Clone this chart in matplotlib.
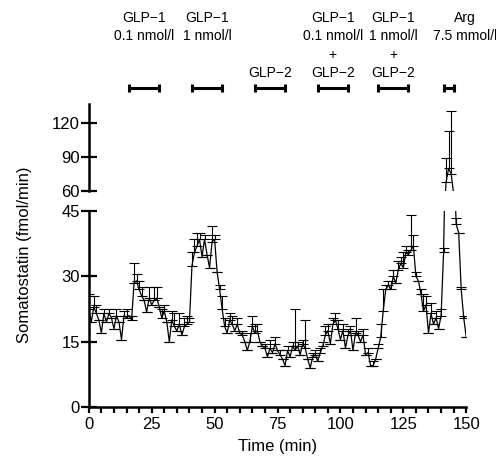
import numpy as np
import matplotlib
matplotlib.use("Agg")
import matplotlib.pyplot as plt
from matplotlib.ticker import MultipleLocator

plt.rcParams["font.family"] = ["Liberation Sans", "DejaVu Sans"]

# somatostatin output per minute (mean, upper SEM)
time_min = list(range(0, 151))
soma = [22.5, 19.5, 23, 21.5, 20, 17, 21.5, 19.5, 21.5, 20.5,
        18, 21, 19.5, 15.5, 21, 20.5, 21, 20, 28.5, 29,
        27, 25.5, 24.5, 21.8, 25, 23.5, 24.5, 25, 23, 20.5,
        22, 19.5, 15, 20, 18.5, 17.5, 19, 16.5, 18.5, 19,
        19.5, 32.5, 35.5, 37, 38.5, 34.5, 38.5, 35, 32, 38,
        38.5, 31, 27, 22.5, 18.5, 17, 20, 19, 17.5, 19,
        17, 16.5, 15, 13, 15, 18.5, 17, 17.5, 15, 14,
        13.5, 11.5, 13.5, 12.5, 14.5, 13, 12, 11, 9.5, 13,
        11.5, 14, 13, 14, 12, 14.5, 13.5, 11, 9, 11.5,
        12, 10.5, 12.5, 14, 16.5, 17.5, 14.5, 19, 20, 18,
        15.5, 17.5, 13.5, 16.5, 17.5, 13, 17, 16.5, 15, 16.5,
        12, 12.5, 9.5, 9.5, 11, 13.5, 16, 22, 27, 28,
        27, 30, 28.5, 31.5, 33, 32, 35.5, 35, 36, 37,
        30, 29, 26, 22, 23.5, 17, 21.5, 19, 20.5, 18,
        21, 35.5, 68, 80, 75, 58, 42, 40, 27, 20.5,
        16]
sem = [3.5, 0, 2.5, 2, 0, 0, 1, 0, 1, 0,
       0, 1.5, 0, 0, 1, 2, 0, 1, 4.5, 1.5,
       2, 2, 0, 0, 2.5, 0, 3, 2.5, 0, 2,
       1.5, 0, 0, 2, 3, 0, 2.5, 0, 2, 2,
       1, 3, 3, 3, 1.5, 0, 1, 0, 0, 3.5,
       1, 0, 1, 3, 2, 0, 1.5, 2, 0, 1.5,
       0, 1, 0, 0, 2, 2.5, 2, 1.5, 0, 0,
       1, 0, 2, 0, 1.5, 0, 1, 0, 0, 1,
       0, 1, 9.5, 1, 0, 1, 6.5, 0, 0, 1,
       1, 0, 1, 1, 2, 1.5, 0, 1.5, 1.5, 2,
       0, 1.5, 0, 1.5, 1, 0, 3.5, 1, 0, 1.5,
       0, 1, 0, 1, 0, 1, 3, 5, 1, 1,
       2, 1.5, 0, 2, 1.5, 3.5, 1.5, 1, 8, 2.5,
       1, 0, 1, 4, 2, 0, 2.5, 0, 1.5, 0,
       1.5, 1, 21, 33, 55, 0, 1.5, 0, 0.5, 0.5,
       0]

# infusion periods (start, end) and their labels
periods = [(16, 28), (41, 53), (66, 78), (91, 103), (115, 127), (141, 145)]
label_x = [22, 47, 72, 97, 121, 149.5]
labels = ["GLP\u22121\n0.1 nmol/l\n\n",
          "GLP\u22121\n1 nmol/l\n\n",
          "\n\n\nGLP\u22122",
          "GLP\u22121\n0.1 nmol/l\n+\nGLP\u22122",
          "GLP\u22121\n1 nmol/l\n+\nGLP\u22122",
          "Arg\n7.5 mmol/l\n\n"]

fig = plt.figure(figsize=(4.96, 4.63), dpi=100)
ax_lo = fig.add_axes([0.179, 0.121, 0.761, 0.423])
ax_hi = fig.add_axes([0.179, 0.587, 0.761, 0.188], sharex=ax_lo)

t = np.array(time_min)
y = np.array(soma)
err = np.array(sem)
for ax in (ax_lo, ax_hi):
    ax.errorbar(t, y, yerr=[np.zeros_like(err), err], color="black", lw=0.9,
                elinewidth=0.8, capsize=3.5, capthick=0.8)
    ax.spines["top"].set_visible(False)
    ax.spines["right"].set_visible(False)
    ax.spines["left"].set_linewidth(1.8)
    ax.tick_params(axis="y", direction="inout", length=11, width=1.6, labelsize=12, pad=1)

ax_lo.set_ylim(0, 45)
ax_lo.set_yticks([0, 15, 30, 45])
ax_lo.set_xlim(0, 150)
ax_lo.xaxis.set_major_locator(MultipleLocator(25))
ax_lo.xaxis.set_minor_locator(MultipleLocator(5))
ax_lo.spines["bottom"].set_linewidth(1.8)
ax_lo.tick_params(axis="x", which="both", direction="out", length=4, width=1.6, labelsize=12, pad=3)
ax_lo.set_xlabel("Time (min)", fontsize=12, labelpad=5)

ax_hi.set_ylim(60, 136)
ax_hi.set_yticks([60, 90, 120])
ax_hi.spines["bottom"].set_visible(False)
ax_hi.tick_params(axis="x", which="both", bottom=False, labelbottom=False)

fig.text(0.05, 0.449, "Somatostatin (fmol/min)", rotation=90, fontsize=12,
         ha="center", va="center")

# infusion bars and labels above the plot
trans = ax_hi.get_xaxis_transform()
for (s, e) in periods:
    ax_hi.plot([s, e], [1.184, 1.184], color="black", lw=2.2, transform=trans, clip_on=False,
               solid_capstyle="butt")
    for xe in (s, e):
        ax_hi.plot([xe, xe], [1.14, 1.228], color="black", lw=2.2, transform=trans, clip_on=False,
                   solid_capstyle="butt")
for xl, txt in zip(label_x, labels):
    ax_hi.text(xl, 1.28, txt, transform=trans, ha="center", va="bottom", fontsize=10,
               linespacing=1.38, clip_on=False)

fig.savefig("out.png", dpi=100)
